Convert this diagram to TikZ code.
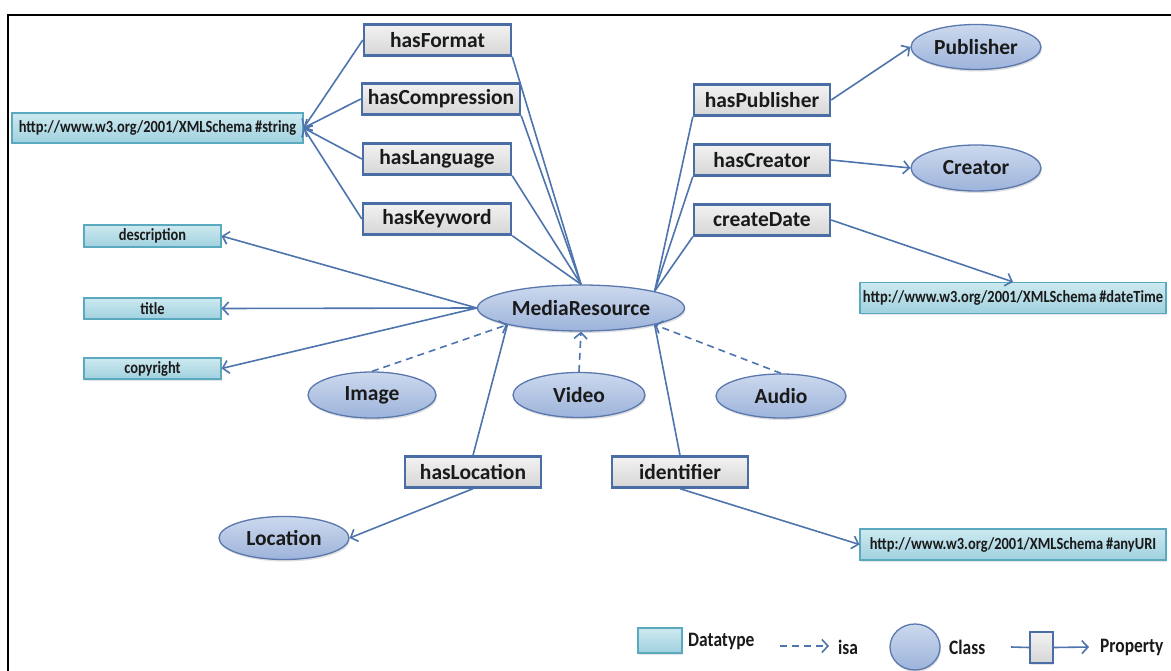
\documentclass[tikz,border=0pt]{standalone}
\usepackage{fontspec}
\setmainfont{Carlito}
\newfontfamily\condfont[FakeStretch=0.85]{Carlito}
\usetikzlibrary{shapes.geometric,arrows.meta,shadows}
\definecolor{lc}{HTML}{4E74AD}
\definecolor{propb}{HTML}{4A6DA6}
\definecolor{propt}{HTML}{F2F2F2}
\definecolor{propbot}{HTML}{D6D6D6}
\definecolor{clsb}{HTML}{5A78AE}
\definecolor{clst}{HTML}{CCD9EE}
\definecolor{clsbot}{HTML}{9DB3DA}
\definecolor{dtb}{HTML}{5AA9BF}
\definecolor{dtt}{HTML}{CDE9F0}
\definecolor{dtbot}{HTML}{A0D1DF}
\definecolor{txt}{HTML}{1A1A1A}
\begin{document}
\begin{tikzpicture}[x=1pt,y=-1pt,
  prop/.style={rectangle, draw=propb, line width=2.4pt, top color=propt, bottom color=propbot,
    minimum height=31pt, inner sep=0pt, text=txt, font=\fontsize{21.5}{24}\selectfont\bfseries,
    drop shadow={shadow xshift=1pt, shadow yshift=-1.5pt, opacity=0.2}},
  cls/.style={ellipse, draw=clsb, line width=1.3pt, top color=clst, bottom color=clsbot,
    inner sep=0pt, text=txt, font=\fontsize{21.5}{24}\selectfont\bfseries,
    drop shadow={shadow xshift=1pt, shadow yshift=-2pt, opacity=0.25}},
  dtype/.style={rectangle, draw=dtb, line width=1.1pt, top color=dtt, bottom color=dtbot,
    inner sep=0pt, text=txt, font=\condfont\fontsize{17}{18}\selectfont\bfseries,
    drop shadow={shadow xshift=1pt, shadow yshift=-1.5pt, opacity=0.2}},
  legtxt/.style={anchor=west, inner sep=0pt, text=txt, font=\condfont\fontsize{20.5}{22}\selectfont\bfseries},
  conn/.style={draw=lc, line width=1.6pt},
  arr/.style={conn, -{Straight Barb[length=6pt,width=13pt]}},
  isa/.style={arr, dash pattern=on 7pt off 5pt}
]
\useasboundingbox (0,0) rectangle (1171,671);
\fill[white] (0,0) rectangle (1171,671);
% frame
\draw[line width=2.4pt, black] (8,672) -- (8,15) -- (1172,15);

% datatypes
\node[dtype, minimum width=291pt, minimum height=30pt] (str) at (157.5,128) {http://www.w3.org/2001/XMLSchema\,\#string};
\node[dtype, minimum width=137pt, minimum height=22pt] (desc) at (152.5,236) {description};
\node[dtype, minimum width=137pt, minimum height=21pt] (title) at (152.5,308.5) {title};
\node[dtype, minimum width=137pt, minimum height=21pt] (copy) at (152.5,368.5) {copyright};
\node[dtype, minimum width=306pt, minimum height=31pt] (dt) at (1013,298) {http://www.w3.org/2001/XMLSchema\,\#dateTime};
\node[dtype, minimum width=306pt, minimum height=31pt] (uri) at (1013,544.5) {http://www.w3.org/2001/XMLSchema\,\#anyURI};

% properties
\node[prop, minimum width=147pt] (fmt) at (437.5,40) {hasFormat};
\node[prop, minimum width=158pt] (cmp) at (441,99) {hasCompression};
\node[prop, minimum width=148pt] (lang) at (437,159) {hasLanguage};
\node[prop, minimum width=148pt] (kw) at (437,219) {hasKeyword};
\node[prop, minimum width=136pt] (pub) at (762,100) {hasPublisher};
\node[prop, minimum width=136pt] (cre) at (762,160) {hasCreator};
\node[prop, minimum width=136pt] (cdate) at (762,220) {createDate};
\node[prop, minimum width=136pt] (hloc) at (473,472) {hasLocation};
\node[prop, minimum width=136pt] (ident) at (680,472) {identifier};

% classes
\node[cls, minimum width=207pt, minimum height=46pt] (mr) at (581,308) {MediaResource};
\node[cls, minimum width=128pt, minimum height=46pt] (img) at (372,395) {Image};
\node[cls, minimum width=132pt, minimum height=45pt] (vid) at (579,395) {Video};
\node[cls, minimum width=130pt, minimum height=44pt] (aud) at (781,396) {Audio};
\node[cls, minimum width=130pt, minimum height=45pt] (publ) at (976,47) {Publisher};
\node[cls, minimum width=130pt, minimum height=46pt] (creator) at (976,168) {Creator};
\node[cls, minimum width=130pt, minimum height=43pt] (location) at (284,538) {Location};

% connectors: properties to string
\foreach \p in {fmt,cmp,lang,kw}{
  \draw[arr] (\p.west) -- (str.east);
  \draw[conn] (\p.south east) -- (mr.north);
}
\foreach \p in {pub,cre,cdate}{
  \draw[conn] (\p.south west) -- (mr.north east);
}
\draw[arr] (pub.east) -- (publ.west);
\draw[arr] (cre.east) -- (creator.west);
\draw[arr] (cdate.east) -- (dt.north);
\draw[arr] (mr.west) -- (desc.east);
\draw[arr] (mr.west) -- (title.east);
\draw[arr] (mr.west) -- (copy.east);
\draw[isa] (img.north) -- (mr.south west);
\draw[isa] (vid.north) -- (mr.south);
\draw[isa] (aud.north) -- (mr.south east);
\draw[conn] (hloc.north) -- (mr.south west);
\draw[conn] (ident.north) -- (mr.south east);
\draw[arr] (hloc.south) -- (location.east);
\draw[arr] (ident.south) -- (uri.west);

% legend
\node[dtype, minimum width=44pt, minimum height=25pt] (legdt) at (660,640.5) {};
\node[legtxt] (legdtt) at (688,641) {Datatype};
\coordinate (isaA) at (780,646);
\coordinate (isaB) at (829,646);
\draw[isa] (isaA) -- (isaB);
\node[legtxt] (legisa) at (838,647) {isa};
\node[cls, minimum width=50pt, minimum height=46pt] (legcls) at (915,647) {};
\node[legtxt] (legclst) at (949,647) {Class};
\coordinate (propA) at (1011,647);
\node[prop, minimum width=23pt, minimum height=31pt] (legprop) at (1041.5,647.5) {};
\coordinate (propB) at (1089,647);
\draw[conn] (propA) -- (legprop.west);
\draw[arr] (legprop.east) -- (propB);
\node[legtxt] (legpropt) at (1100,647) {Property};
\end{tikzpicture}
\end{document}
